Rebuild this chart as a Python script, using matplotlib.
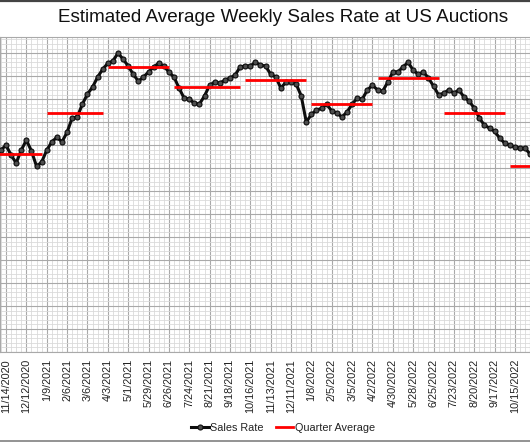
import matplotlib
matplotlib.use("Agg")
import matplotlib.pyplot as plt
from matplotlib.lines import Line2D
import pandas as pd

plt.rcParams["font.family"] = ["Liberation Sans", "DejaVu Sans"]

# weekly sales rate (%), one value per Saturday starting 10/31/2020
week_start = "2020-10-31"
sales_rate = [
    43.5, 43.9, 45.0, 42.8, 41.1, 43.9, 46.1, 43.7, 40.4, 41.3,
    43.9, 45.7, 46.7, 45.7, 47.8, 50.9, 51.1, 53.9, 56.1, 57.6,
    59.8, 61.5, 62.8, 63.3, 65.0, 63.7, 62.2, 60.4, 58.9, 59.8,
    60.9, 62.0, 62.8, 62.2, 60.9, 59.8, 57.4, 55.2, 55.0, 54.1,
    53.9, 55.7, 58.0, 58.7, 58.5, 59.1, 59.6, 60.2, 62.0, 62.2,
    62.2, 63.0, 62.4, 62.2, 60.4, 59.8, 57.4, 58.7, 58.7, 58.3,
    55.7, 50.0, 51.7, 52.6, 53.0, 53.9, 52.4, 52.0, 51.1, 52.2,
    53.9, 55.2, 55.0, 57.0, 58.0, 57.0, 56.7, 58.7, 60.9, 60.9,
    62.0, 63.0, 61.3, 60.4, 60.9, 59.6, 57.8, 55.9, 56.3, 57.0,
    56.3, 57.0, 55.4, 54.6, 53.0, 50.9, 49.3, 48.7, 48.0, 46.5,
    45.4, 45.0, 44.6, 44.3, 44.3, 43.0,
]

# quarter averages: first week, last week, value
q_start = ["2020-10-31", "2021-01-09", "2021-04-03", "2021-07-03", "2021-10-09",
           "2022-01-08", "2022-04-09", "2022-07-09", "2022-10-08"]
q_end = ["2021-01-02", "2021-03-27", "2021-06-26", "2021-10-02", "2022-01-01",
         "2022-04-02", "2022-07-02", "2022-10-01", "2022-11-05"]
q_avg = [43.0, 52.0, 62.0, 57.6, 59.1, 53.9, 59.6, 52.0, 40.4]

tick_dates = pd.date_range("2020-11-14", "2022-10-15", freq="28D")
tick_labels = [f"{d.month}/{d.day}/{d.year}" for d in tick_dates]

weeks = pd.date_range(week_start, periods=len(sales_rate), freq="7D")

fig = plt.figure(figsize=(5.3, 4.42), dpi=100)
ax = fig.add_axes([0.0, 90 / 442, 1.0, 314.5 / 442])

ax.plot(weeks, sales_rate, color="#0d0d0d", lw=2.2, marker="o", ms=3.6,
        mfc="#4d4d4d", mec="#0d0d0d", mew=0.8, zorder=3)
for s, e, v in zip(q_start, q_end, q_avg):
    ax.plot([pd.Timestamp(s), pd.Timestamp(e)], [v, v], color="#ff0000",
            lw=2.0, solid_capstyle="butt", zorder=4)

ax.set_xticks(tick_dates)
ax.set_xticklabels(tick_labels, rotation=90, fontsize=7.8, color="#222222")
ax.set_xticks(pd.date_range("2020-10-24", "2022-11-12", freq="7D"), minor=True)
ax.set_yticks(range(0, 70, 5))
ax.set_yticks(range(0, 69, 1), minor=True)
ax.tick_params(axis="both", which="both", length=0, pad=5)
ax.tick_params(axis="y", labelleft=False)

# limits after the ticks, so the tick lists do not widen the view
t0 = pd.Timestamp("2020-11-14")
ax.set_xlim(t0 - pd.Timedelta(days=1.18 * 7), t0 + pd.Timedelta(days=102.95 * 7))
ax.set_ylim(0, 68.4)

ax.grid(which="major", color="#a9a9a9", lw=0.8)
ax.grid(which="minor", color="#dadada", lw=0.6)
ax.set_axisbelow(True)
for sp in ax.spines.values():
    sp.set_color("#a9a9a9")
    sp.set_linewidth(0.8)

fig.text(283 / 530, 1 - 18 / 442, "Estimated Average Weekly Sales Rate at US Auctions",
         ha="center", va="center", fontsize=13.6, color="#111111")

handles = [
    Line2D([], [], color="#0d0d0d", lw=2.2, marker="o", ms=3.6, mfc="#4d4d4d",
           mec="#0d0d0d", mew=0.8),
    Line2D([], [], color="#ff0000", lw=2.0),
]
fig.legend(handles, ["Sales Rate", "Quarter Average"], loc="center",
           bbox_to_anchor=(283 / 530, 1 - 428 / 442), ncol=2, frameon=False,
           fontsize=7.8, handlelength=1.6, handletextpad=0.15, columnspacing=1.1,
           labelcolor="#222222")

# chart-area border
fig.add_artist(Line2D([0, 1], [1 - 1 / 442, 1 - 1 / 442], color="#444444", lw=1.6))
fig.add_artist(Line2D([0, 1], [1 - 440.5 / 442, 1 - 440.5 / 442], color="#808080", lw=1.2))

fig.savefig("out.png", dpi=100)
